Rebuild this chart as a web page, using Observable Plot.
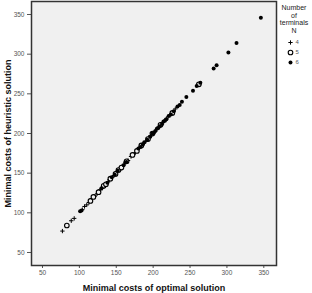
<!DOCTYPE html>
<html>
<head>
<meta charset="utf-8">
<script src="https://cdn.jsdelivr.net/npm/d3@7"></script>
<script src="https://cdn.jsdelivr.net/npm/@observablehq/plot@0.6"></script>
<style>
  html, body { margin: 0; padding: 0; background: #fff; }
  #wrap { position: relative; width: 312px; height: 293px; font-family: "Liberation Sans", Arial, sans-serif; }
  #chart { position: absolute; left: 0; top: 0; }
  #legend-title { position: absolute; left: 276px; width: 36px; top: 4px; text-align: center; font-size: 7px; line-height: 7.6px; color: #222; }
  #legend { position: absolute; left: 284px; top: 38px; }
  [aria-label="x-axis label"], [aria-label="y-axis label"] { font-weight: bold; font-size: 9px; fill: #111; }
</style>
</head>
<body>
<div id="wrap">
  <div id="chart"></div>
  <div id="legend-title">Number<br>of<br>terminals<br>N</div>
  <div id="legend"></div>
</div>
<script>
const xTicks = [50, 100, 150, 200, 250, 300, 350];
const yTicks = [50, 100, 150, 200, 250, 300, 350];
const legendLabels = ["4", "5", "6"];

const optimal4   = [77, 89, 93, 104, 107, 110, 113, 117, 121, 124, 128, 131, 135, 139, 141, 147, 150, 154, 158, 166, 170, 176, 181, 186, 190, 194, 197, 203, 207, 212, 218, 223, 230];
const heuristic4 = [77, 90, 93, 104, 108, 110, 113, 118, 121, 124, 129, 131, 136, 139, 142, 147, 151, 154, 159, 166, 171, 176, 182, 186, 190, 195, 197, 203, 208, 212, 219, 223, 231];

const optimal5   = [83, 115, 119, 126, 133, 136, 142, 149, 153, 157, 164, 172, 178, 184, 193, 199, 210, 226, 262];
const heuristic5 = [84, 115, 120, 126, 134, 136, 143, 149, 154, 157, 165, 173, 178, 185, 193, 200, 211, 226, 262];

const optimal6   = [101, 103, 130, 138, 144, 148, 152, 160, 162, 164, 180, 183, 186, 188, 192, 196, 199, 201, 203, 205, 207, 209, 212, 214, 216, 218, 221, 224, 228, 233, 236, 239, 245, 254, 259, 264, 282, 286, 302, 313, 346];
const heuristic6 = [102, 103, 131, 138, 145, 148, 153, 160, 163, 164, 181, 183, 186, 189, 192, 196, 200, 201, 203, 206, 207, 209, 212, 215, 216, 218, 222, 224, 228, 234, 236, 240, 246, 254, 260, 264, 282, 286, 302, 314, 346];

const pts = (xs, ys, n) => xs.map((x, i) => ({x, y: ys[i], n}));
const d4 = pts(optimal4, heuristic4, "4");
const d5 = pts(optimal5, heuristic5, "5");
const d6 = pts(optimal6, heuristic6, "6");

const chart = Plot.plot({
  width: 312,
  height: 293,
  marginLeft: 31,
  marginRight: 36,
  marginTop: 1,
  marginBottom: 28,
  style: { fontFamily: "Liberation Sans, Arial, sans-serif", background: "transparent" },
  x: { domain: [35.1, 367.2] },
  y: { domain: [33.6, 366.4] },
  marks: [
    Plot.frame({ fill: "#f0f0f0", stroke: "none" }),
    Plot.axisX({ ticks: xTicks, tickSize: 3, tickPadding: 2, fontSize: 6.5, color: "#555", label: "Minimal costs of optimal solution", labelAnchor: "center", labelArrow: "none", labelOffset: 25 }),
    Plot.axisY({ ticks: yTicks, tickSize: 4, tickPadding: 3, fontSize: 6.5, color: "#555", label: "Minimal costs of heuristic solution", labelAnchor: "center", labelArrow: "none", labelOffset: 27 }),
    Plot.dot(d4, { x: "x", y: "y", symbol: "plus", r: 1.5, stroke: "#000", strokeWidth: 1 }),
    Plot.dot(d5, { x: "x", y: "y", r: 2.3, fill: "#f0f0f0", stroke: "#000", strokeWidth: 1.1 }),
    Plot.dot(d6, { x: "x", y: "y", r: 2, fill: "#000", stroke: "none" }),
    Plot.frame({ stroke: "#333", strokeWidth: 1.5 })
  ]
});
document.getElementById("chart").appendChild(chart);

const legend = Plot.plot({
  width: 22,
  height: 28,
  margin: 0,
  marginTop: 4,
  marginBottom: 4,
  marginLeft: 6,
  x: { domain: [0, 1], axis: null },
  y: { domain: legendLabels, axis: null, padding: 0 },
  style: { fontFamily: "Liberation Sans, Arial, sans-serif", background: "transparent" },
  marks: [
    Plot.dot([legendLabels[0]], { x: 0, y: d => d, symbol: "plus", r: 1.5, stroke: "#000", strokeWidth: 1 }),
    Plot.dot([legendLabels[1]], { x: 0, y: d => d, r: 2.3, fill: "#fff", stroke: "#000", strokeWidth: 1.1 }),
    Plot.dot([legendLabels[2]], { x: 0, y: d => d, r: 2, fill: "#000" }),
    Plot.text(legendLabels, { x: 0, y: d => d, text: d => d, dx: 5, textAnchor: "start", fontSize: 6, fill: "#555" })
  ]
});
document.getElementById("legend").appendChild(legend);
</script>
</body>
</html>
